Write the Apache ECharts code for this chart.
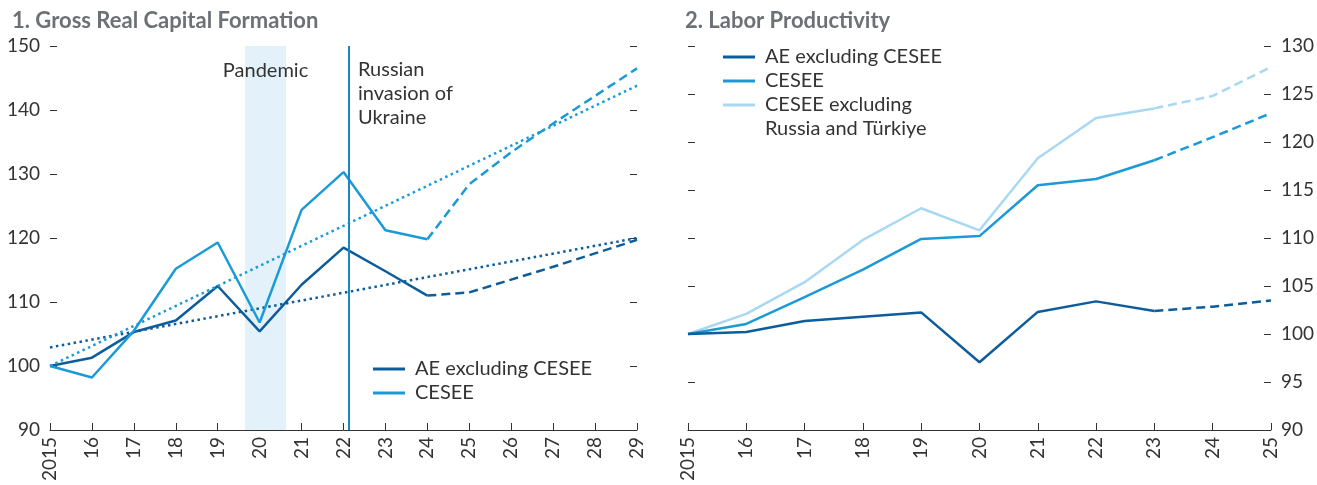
<!DOCTYPE html>
<html>
<head>
<meta charset="utf-8">
<script src="https://cdn.jsdelivr.net/npm/echarts@6/dist/echarts.min.js"></script>
<style>
  html, body { margin: 0; padding: 0; background: #fff; }
  #chart { width: 1317px; height: 485px; }
</style>
</head>
<body>
<div id="chart"></div>
<script>
// panel 1: gross real capital formation, index 2015 = 100
const gcfYears = [2015, 2016, 2017, 2018, 2019, 2020, 2021, 2022, 2023, 2024, 2025, 2026, 2027, 2028, 2029]
const gcfAE = [100, 101.3, 105.3, 107.1, 112.5, 105.4, 112.7, 118.5, 114.8, 111.0, 111.5, 113.5, 115.5, 117.6, 119.7]
const gcfCESEE = [100, 98.2, 105.5, 115.2, 119.3, 106.8, 124.4, 130.3, 121.2, 119.8, 128.4, 133.4, 137.9, 142.2, 146.5]
const gcfLastActual = 2024
const gcfTrendYears = [2015, 2029]
const gcfTrendAE = [102.9, 120.0]
const gcfTrendCESEE = [100.0, 143.8]
const pandemic = [2019.65, 2020.63]
const invasion = 2022.13

// panel 2: labor productivity, index 2015 = 100
const lpYears = [2015, 2016, 2017, 2018, 2019, 2020, 2021, 2022, 2023, 2024, 2025]
const lpAE = [100, 100.2, 101.35, 101.8, 102.25, 97.05, 102.3, 103.4, 102.4, 102.85, 103.5]
const lpCESEE = [100, 101.05, 103.85, 106.7, 109.9, 110.2, 115.5, 116.15, 118.1, 120.5, 123.0]
const lpCESEExRT = [100, 102.1, 105.4, 109.8, 113.1, 110.8, 118.3, 122.5, 123.5, 124.8, 127.8]
const lpLastActual = 2023

const DARK = '#0d5c9c'
const MID = '#1b9ad7'
const LIGHT = '#a9d8f2'
const INK = '#333'
const FONT = 'Lato'

const chart = echarts.init(document.getElementById('chart'))

function pairs(years, vals, from, to) {
  const out = []
  years.forEach((y, i) => { if (y >= from && y <= to) out.push([y, vals[i]]) })
  return out
}

function line(name, data, color, type, gi, extra) {
  return Object.assign({
    name,
    type: 'line',
    xAxisIndex: gi,
    yAxisIndex: gi * 2,
    data,
    symbol: 'none',
    silent: true,
    animation: false,
    itemStyle: { color },
    lineStyle: { color, width: 2.5, type },
  }, extra || {})
}

const DASH = [9, 5]
const DOT = [2.5, 3.5]

function xAxis(gi, min, max) {
  return {
    type: 'value', gridIndex: gi, min, max, interval: 1,
    axisLine: { lineStyle: { color: INK, width: 1 } },
    axisTick: { inside: true, length: 7, lineStyle: { color: INK } },
    splitLine: { show: false },
    axisLabel: {
      rotate: 90, margin: 7, fontSize: 19, fontFamily: FONT, color: INK,
      formatter: v => (v === min ? String(v) : String(v).slice(2)),
    },
  }
}

function yAxis(gi, pos, min, max, interval, labels) {
  return {
    type: 'value', gridIndex: gi, position: pos, min, max, interval,
    axisLine: { show: false },
    axisTick: { show: true, inside: true, length: 7, lineStyle: { color: INK } },
    splitLine: { show: false },
    axisLabel: { show: labels, margin: 10, fontSize: 19, fontFamily: FONT, color: INK },
  }
}

const legendText = { fontSize: 20, fontFamily: FONT, color: INK, lineHeight: 24, padding: [0, 0, 0, 5] }
const titleText = { fontSize: 22, fontWeight: 'bold', fontFamily: FONT, color: '#6d7176' }

chart.setOption({
  animation: false,
  title: [
    { text: '1. Gross Real Capital Formation', left: 7, top: 5, textStyle: titleText },
    { text: '2. Labor Productivity', left: 680, top: 5, textStyle: titleText },
  ],
  legend: [
    { data: ['AE excluding CESEE', 'CESEE'], orient: 'vertical', left: 373, top: 357,
      itemWidth: 32, itemHeight: 3, itemGap: 0, icon: 'rect', padding: 0,
      selectedMode: false, textStyle: legendText },
    { data: ['AE excluding CESEE', 'CESEE', 'CESEE excluding Russia and Türkiye'],
      orient: 'vertical', left: 723, top: 45,
      itemWidth: 32, itemHeight: 3, itemGap: 0, icon: 'rect', padding: 0,
      selectedMode: false, textStyle: legendText,
      formatter: n => (n === 'CESEE excluding Russia and Türkiye' ? 'CESEE excluding' : n) },
  ],
  grid: [
    { left: 50, right: 680, top: 46, bottom: 55 },
    { left: 688, right: 45, top: 46, bottom: 55 },
  ],
  xAxis: [xAxis(0, 2015, 2029), xAxis(1, 2015, 2025)],
  yAxis: [
    yAxis(0, 'left', 90, 150, 10, true),
    yAxis(0, 'right', 90, 150, 10, false),
    yAxis(1, 'left', 90, 130, 5, false),
    yAxis(1, 'right', 90, 130, 5, true),
  ],
  series: [
    line('AE excluding CESEE', pairs(gcfYears, gcfAE, 2015, gcfLastActual), DARK, 'solid', 0, {
      markArea: {
        silent: true,
        itemStyle: { color: '#e2f1fa' },
        data: [[{ xAxis: pandemic[0] }, { xAxis: pandemic[1] }]],
      },
      markLine: {
        silent: true, symbol: 'none', label: { show: false },
        lineStyle: { color: '#1b87c0', width: 2, type: 'solid' },
        data: [{ xAxis: invasion }],
      },
    }),
    line('AE excluding CESEE', pairs(gcfYears, gcfAE, gcfLastActual, 2029), DARK, DASH, 0),
    line('AE excluding CESEE trend', pairs(gcfTrendYears, gcfTrendAE, 2015, 2029), DARK, DOT, 0),
    line('CESEE', pairs(gcfYears, gcfCESEE, 2015, gcfLastActual), MID, 'solid', 0),
    line('CESEE', pairs(gcfYears, gcfCESEE, gcfLastActual, 2029), MID, DASH, 0),
    line('CESEE trend', pairs(gcfTrendYears, gcfTrendCESEE, 2015, 2029), MID, DOT, 0),

    line('CESEE excluding Russia and Türkiye', pairs(lpYears, lpCESEExRT, 2015, lpLastActual), LIGHT, 'solid', 1),
    line('CESEE excluding Russia and Türkiye', pairs(lpYears, lpCESEExRT, lpLastActual, 2025), LIGHT, DASH, 1),
    line('CESEE', pairs(lpYears, lpCESEE, 2015, lpLastActual), MID, 'solid', 1),
    line('CESEE', pairs(lpYears, lpCESEE, lpLastActual, 2025), MID, DASH, 1),
    line('AE excluding CESEE', pairs(lpYears, lpAE, 2015, lpLastActual), DARK, 'solid', 1),
    line('AE excluding CESEE', pairs(lpYears, lpAE, lpLastActual, 2025), DARK, DASH, 1),
  ],
})

// annotations placed from axis coordinates
const px = v => chart.convertToPixel({ xAxisIndex: 0, yAxisIndex: 0 }, v)
const bandMid = px([(pandemic[0] + pandemic[1]) / 2, 150])
const invTop = px([invasion, 150])
const textStyle = { fontSize: 20, fontFamily: FONT, fill: INK, lineHeight: 24 }
chart.setOption({
  graphic: [
    { type: 'text', z: 100, x: bandMid[0], y: bandMid[1] + 25,
      style: Object.assign({ text: 'Pandemic', align: 'center', verticalAlign: 'middle' }, textStyle) },
    { type: 'text', z: 100, x: invTop[0] + 9, y: invTop[1] + 12,
      style: Object.assign({ text: 'Russian\ninvasion of\nUkraine', align: 'left', verticalAlign: 'top' }, textStyle) },
    { type: 'text', z: 100, x: 723 + 32 + 10, y: 45 + 3 * 24 + 12,
      style: Object.assign({ text: 'Russia and Türkiye', align: 'left', verticalAlign: 'middle' }, textStyle) },
  ],
})
</script>
</body>
</html>
